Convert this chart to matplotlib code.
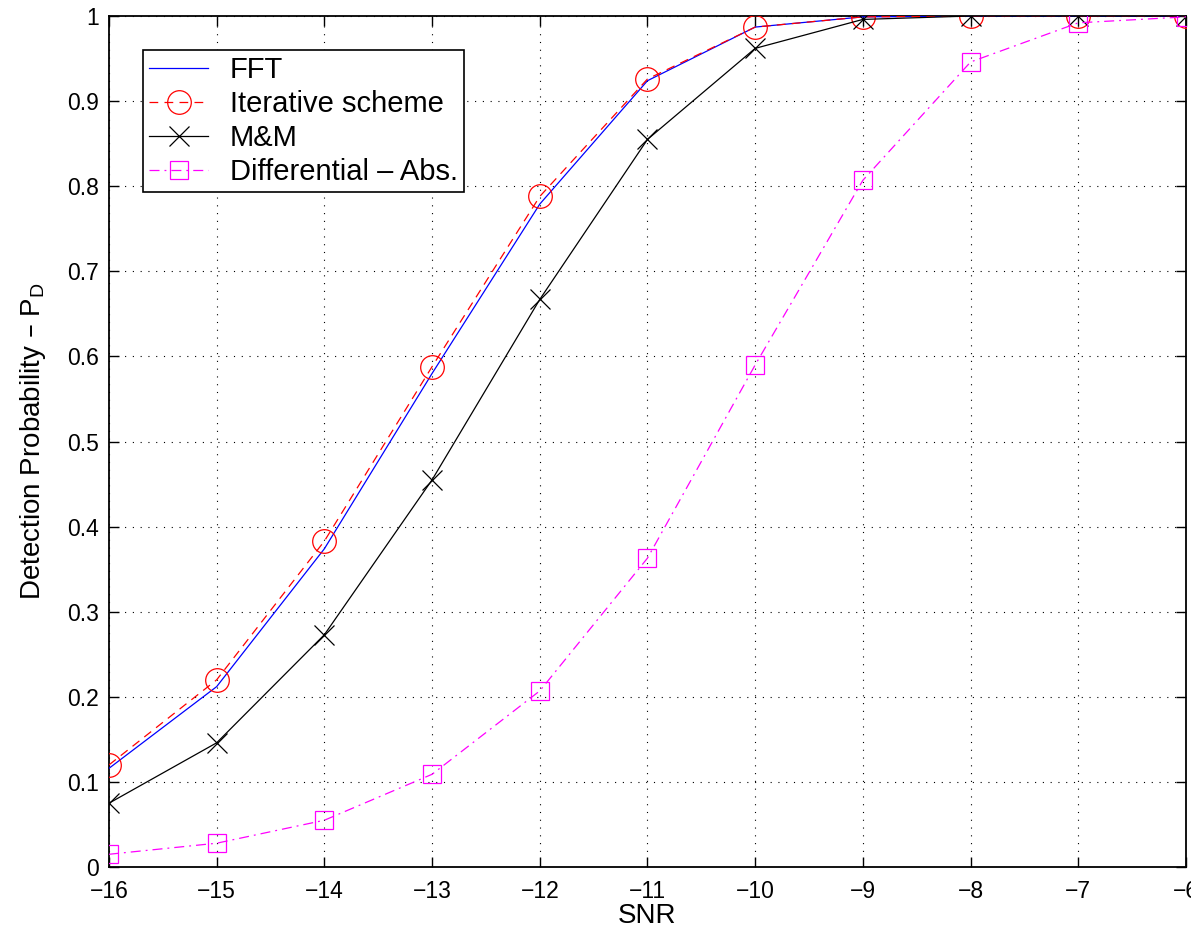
import matplotlib
matplotlib.use("Agg")
import matplotlib.pyplot as plt

snr = [-16, -15, -14, -13, -12, -11, -10, -9, -8, -7, -6]
fft = [0.116, 0.212, 0.374, 0.580, 0.779, 0.924, 0.987, 0.999, 1.0, 1.0, 1.0]
iterative = [0.120, 0.220, 0.383, 0.588, 0.788, 0.926, 0.987, 0.999, 1.0, 1.0, 1.0]
mm = [0.075, 0.146, 0.273, 0.455, 0.667, 0.855, 0.962, 0.996, 1.0, 1.0, 1.0]
diff_abs = [0.015, 0.028, 0.055, 0.109, 0.207, 0.363, 0.590, 0.807, 0.946, 0.992, 0.999]

xticks = list(range(-16, -5))
yticks = [0, 0.1, 0.2, 0.3, 0.4, 0.5, 0.6, 0.7, 0.8, 0.9, 1]
ytick_labels = ["0", "0.1", "0.2", "0.3", "0.4", "0.5", "0.6", "0.7", "0.8", "0.9", "1"]

plt.rcParams['font.family'] = ['Liberation Sans', 'DejaVu Sans']

fig = plt.figure(figsize=(11.91, 9.31), dpi=100)
ax = fig.add_axes([0.0915, 0.0687, 0.9043, 0.9141])

lw = 0.9
ax.plot(snr, fft, color='blue', lw=lw, label='FFT', zorder=3)
ax.plot(snr, iterative, color='red', lw=lw, ls=(0, (7, 5)), marker='o', ms=17,
        mfc='none', mec='red', mew=lw, label='Iterative scheme', zorder=3)
ax.plot(snr, mm, color='black', lw=lw, marker='x', ms=15, mew=lw,
        label='M&M', zorder=3)
ax.plot(snr, diff_abs, color='magenta', lw=lw, ls=(0, (8, 4, 1.5, 4)), marker='s',
        ms=13.5, mfc='none', mec='magenta', mew=lw,
        label='Differential \u2013 Abs.', zorder=3)

ax.set_xlim(-16, -6)
ax.set_ylim(0, 1)
ax.set_xticks(xticks)
ax.set_yticks(yticks)
ax.set_yticklabels(ytick_labels)
ax.tick_params(direction='in', length=7, width=1, labelsize=16.5, pad=7,
               top=True, right=True)
ax.tick_params(axis='x', pad=9)
ax.grid(True, color='black', ls=(0, (1, 6)), lw=0.8)
for s in ax.spines.values():
    s.set_linewidth(1.3)

ax.set_xlabel('SNR', fontsize=20, labelpad=0)
ax.set_ylabel('Detection Probability \u2013 P$_\\mathregular{D}$', fontsize=20, labelpad=14)

leg = ax.legend(loc='upper left', bbox_to_anchor=(0.0316, 0.960), borderaxespad=0,
                fontsize=21, handlelength=2.0, frameon=True, fancybox=False,
                framealpha=1, edgecolor='black', borderpad=0.22, labelspacing=0.2,
                handletextpad=0.75)
leg.get_frame().set_linewidth(1.2)

fig.savefig('out.png', dpi=100)
